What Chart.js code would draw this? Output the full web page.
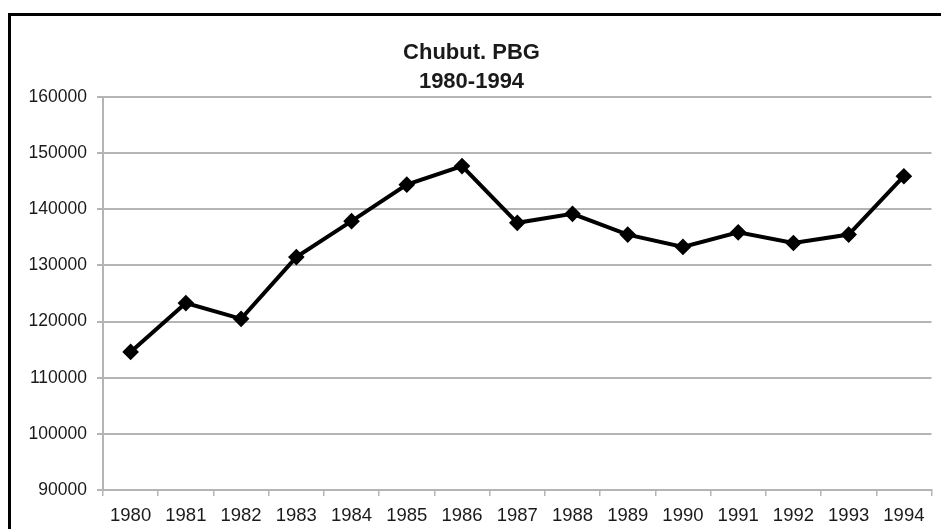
<!DOCTYPE html>
<html>
<head>
<meta charset="utf-8">
<script src="https://cdn.jsdelivr.net/npm/chart.js@4/dist/chart.umd.min.js"></script>
<style>
  html, body { margin: 0; padding: 0; background: #fff; overflow: hidden; }
  #wrap { position: relative; width: 941px; height: 529px; }
  #c { position: absolute; left: 0; top: 0; }
  #frame { position: absolute; left: 8px; top: 13px; width: 1000px; height: 600px; border: 3px solid #000; pointer-events: none; }
</style>
</head>
<body>
<div id="wrap">
  <canvas id="c" width="941" height="529"></canvas>
  <div id="frame"></div>
</div>
<script>
const years = ['1980','1981','1982','1983','1984','1985','1986','1987','1988','1989','1990','1991','1992','1993','1994'];
const pbg = [114600, 123300, 120500, 131500, 137900, 144400, 147700, 137600, 139200, 135500, 133300, 135900, 134000, 135500, 145900];
const titleLines = ['Chubut. PBG', '1980-1994'];
const yMin = 90000, yMax = 160000, yStep = 10000;

const gridColor = '#b4b4b4';
const textColor = '#1a1a1a';
const fam = '"Liberation Sans", Arial, sans-serif';

new Chart(document.getElementById('c'), {
  type: 'line',
  data: {
    labels: years,
    datasets: [{
      data: pbg,
      borderColor: '#000',
      backgroundColor: '#000',
      borderWidth: 4,
      pointStyle: 'rectRot',
      pointRadius: 5.5,
      pointBackgroundColor: '#000',
      pointBorderColor: '#000',
      tension: 0,
      fill: false
    }]
  },
  options: {
    responsive: false,
    devicePixelRatio: 1,
    animation: false,
    layout: { padding: { top: 16, left: 11, right: 9, bottom: 0 } },
    plugins: {
      legend: { display: false },
      tooltip: { enabled: false },
      title: {
        display: true,
        text: titleLines,
        color: textColor,
        font: { family: fam, size: 22, weight: 'bold', lineHeight: 1.32 },
        padding: { top: 22, bottom: 1 }
      }
    },
    scales: {
      x: {
        type: 'category',
        offset: true,
        grid: { offset: true, drawOnChartArea: false, drawTicks: true, tickLength: 6, color: gridColor, lineWidth: 1.5 },
        border: { color: gridColor, width: 2 },
        ticks: { color: textColor, font: { family: fam, size: 18.5 }, padding: 9, maxRotation: 0, autoSkip: false },
        afterFit: (s) => { s.height = 39; }
      },
      y: {
        min: yMin, max: yMax,
        grid: { color: gridColor, lineWidth: 2, tickLength: 6 },
        border: { color: gridColor, width: 2 },
        ticks: { stepSize: yStep, color: textColor, font: { family: fam, size: 17.5 }, padding: 10, callback: (v) => String(v) },
        afterFit: (s) => { s.width = 92; }
      }
    }
  }
});
</script>
</body>
</html>
